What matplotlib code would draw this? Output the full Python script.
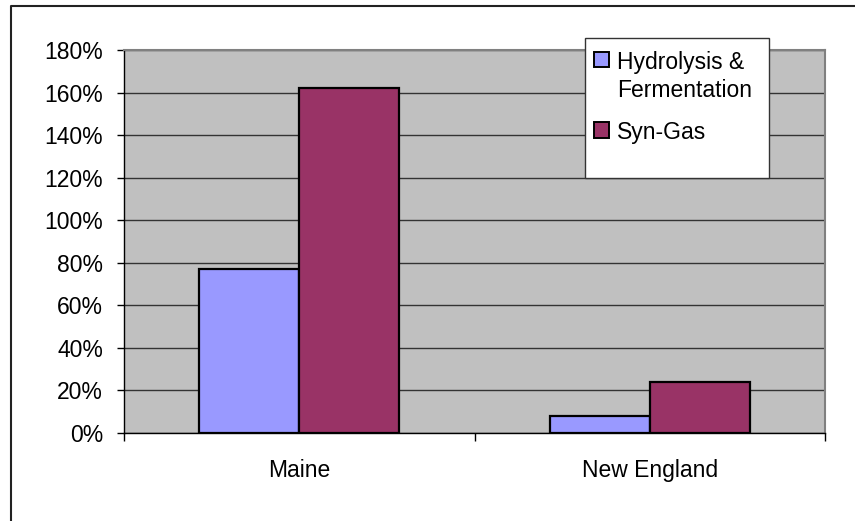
"""Excel-style grouped bar chart: Maine vs New England, two conversion routes."""
import matplotlib
matplotlib.use('Agg')
import matplotlib.pyplot as plt
from matplotlib.patches import Rectangle
from matplotlib.lines import Line2D
from matplotlib.ticker import FixedLocator
import numpy as np

plt.rcParams['font.family'] = ['Liberation Sans', 'DejaVu Sans']

# Data
regions = ['Maine', 'New England']
series_names = ['Hydrolysis &\nFermentation', 'Syn-Gas']
hydrolysis = [77, 8]
syngas = [162, 24]
yticks = [0, 20, 40, 60, 80, 100, 120, 140, 160, 180]
colors = ['#9999FF', '#993366']

FS = 16.5
W, H = 855, 521
fig = plt.figure(figsize=(W / 100, H / 100), dpi=100)
ax = fig.add_axes([124 / W, 1 - 433 / H, (825 - 124) / W, (433 - 50) / H])

x = np.arange(len(regions))
bw = 100 / 350
for i, vals in enumerate([hydrolysis, syngas]):
    ax.bar(x + (i - 0.5) * bw, vals, bw, color=colors[i],
           edgecolor='black', linewidth=1.6, zorder=3)

ax.set_facecolor('#C0C0C0')
ax.set_xlim(-0.5, len(regions) - 0.5)
ax.set_ylim(0, 180)
ax.set_yticks(yticks)
ax.set_yticklabels([f'{v}%' for v in yticks])
ax.yaxis.grid(True, color='#333333', linewidth=1.0, zorder=1)
ax.set_axisbelow(True)

ax.set_xticks(x)
ax.set_xticklabels(regions)
ax.xaxis.set_minor_locator(FixedLocator(np.arange(-0.5, len(regions), 1.0)))
ax.tick_params(axis='x', which='major', length=0, pad=19, labelsize=FS)
ax.tick_params(axis='x', which='minor', length=6, width=1, color='black', direction='out')
ax.tick_params(axis='y', length=5, width=1, color='black', pad=10, labelsize=FS)

for side in ['top', 'right']:
    ax.spines[side].set_color('#808080')
    ax.spines[side].set_linewidth(1.5)
for side in ['left', 'bottom']:
    ax.spines[side].set_color('black')
    ax.spines[side].set_linewidth(1.0)
ax.spines['bottom'].set_zorder(4)

# Legend box, drawn by hand to keep its Excel proportions
lx0, ly0, lx1, ly1 = 585, 38, 769, 178
fig.add_artist(Rectangle((lx0 / W, 1 - ly1 / H), (lx1 - lx0) / W, (ly1 - ly0) / H,
                         transform=fig.transFigure, facecolor='white',
                         edgecolor='#333333', linewidth=1.0, zorder=5))
entry_y = [59.5, 130]
line_gap = 29
for name, c, yy in zip(series_names, colors, entry_y):
    fig.add_artist(Rectangle((594 / W, 1 - (yy + 7.5) / H), 15 / W, 15 / H,
                             transform=fig.transFigure, facecolor=c,
                             edgecolor='black', linewidth=1.4, zorder=6))
    for k, line in enumerate(name.split('\n')):
        fig.text(617 / W, 1 - (yy + k * line_gap) / H, line, fontsize=FS,
                 va='center_baseline', ha='left', zorder=7)

# Outer frame (top and left edges are visible in the original)
fig.add_artist(Line2D([10.5 / W, 10.5 / W, 1], [0, 1 - 5.5 / H, 1 - 5.5 / H],
                      transform=fig.transFigure, color='#222222', linewidth=1.5))

fig.savefig('out.png', dpi=100, facecolor='white')
plt.close(fig)
